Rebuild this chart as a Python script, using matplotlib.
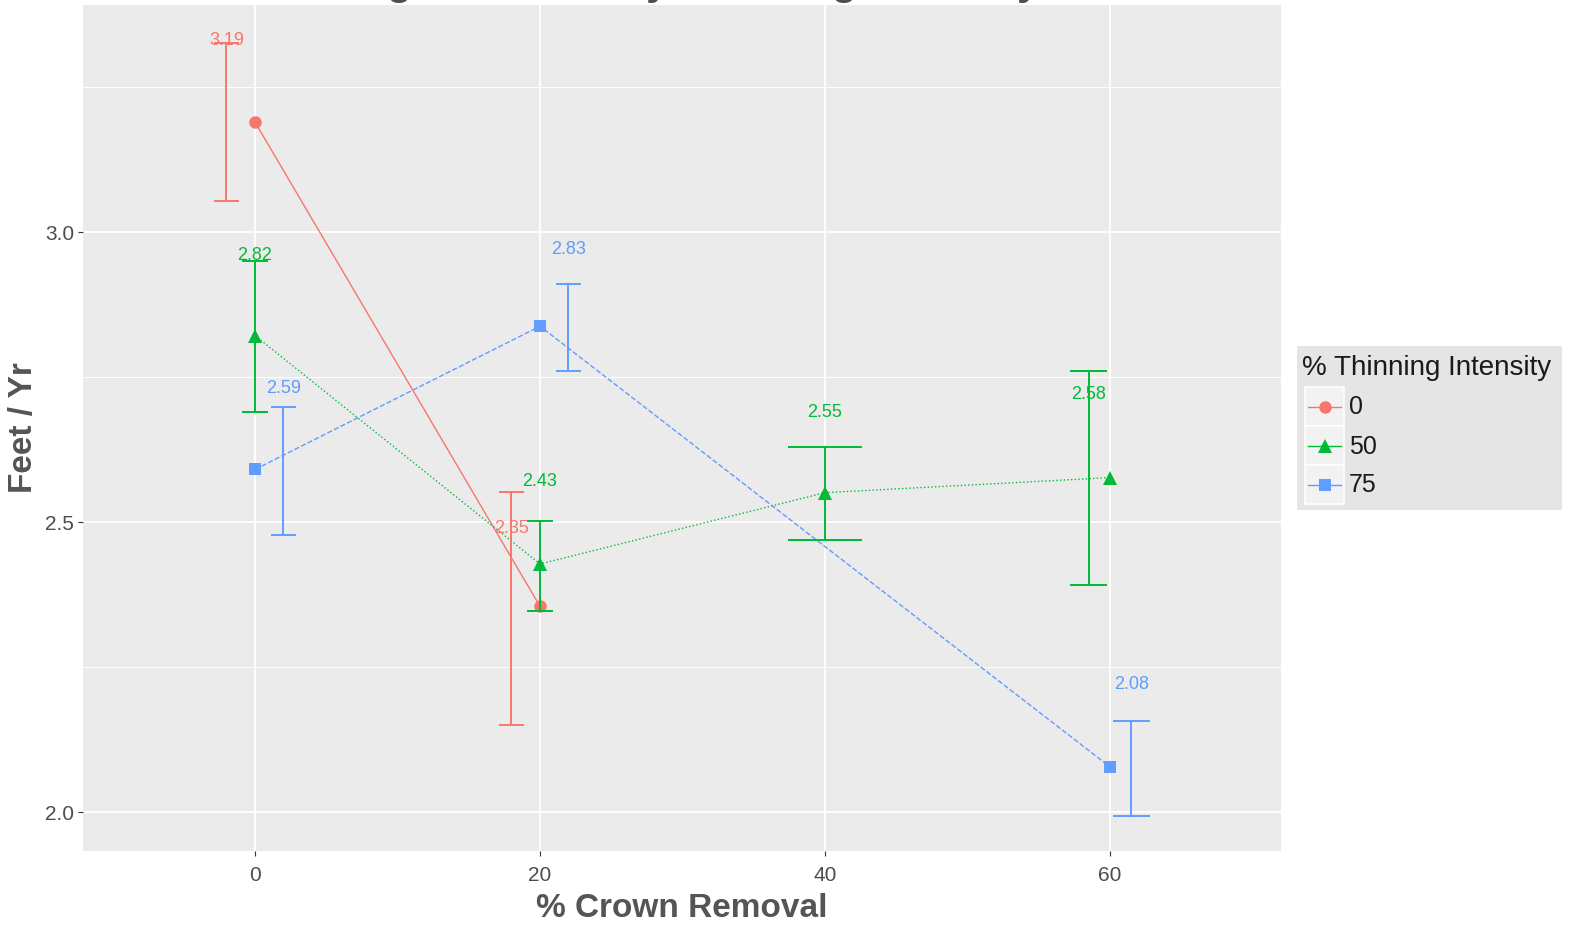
import matplotlib
matplotlib.use("Agg")
import matplotlib.pyplot as plt
from matplotlib.patches import Rectangle
from matplotlib.lines import Line2D
import numpy as np

plt.rcParams['font.family'] = ['Liberation Sans', 'DejaVu Sans']

# ---------------- data ----------------
groups = ["0", "50", "75"]                     # % thinning intensity
colors = ["#F8766D", "#00BA38", "#619CFF"]
markers = ["o", "^", "s"]
linestyles = ["-", ":", "--"]

crown_red = [0, 20]
mean_red = [3.19, 2.355]
lo_red = [3.054, 2.151]
hi_red = [3.327, 2.552]

crown_green = [0, 20, 40, 60]
mean_green = [2.822, 2.428, 2.551, 2.577]
lo_green = [2.690, 2.347, 2.470, 2.392]
hi_green = [2.950, 2.502, 2.629, 2.760]

crown_blue = [0, 20, 60]
mean_blue = [2.591, 2.838, 2.078]
lo_blue = [2.478, 2.761, 1.993]
hi_blue = [2.698, 2.910, 2.157]

labels_red = ["3.19", "2.35"]
labels_green = ["2.82", "2.43", "2.55", "2.58"]
labels_blue = ["2.59", "2.83", "2.08"]

xticks = [0, 20, 40, 60]
yticks = [2.0, 2.5, 3.0]
yminor = [2.25, 2.75, 3.25]

title = "Height Growth by Thinning Intensity"
xlabel = "% Crown Removal"
ylabel = "Feet / Yr"
legend_title = "% Thinning Intensity"

series = [
    (crown_red, mean_red, lo_red, hi_red, labels_red),
    (crown_green, mean_green, lo_green, hi_green, labels_green),
    (crown_blue, mean_blue, lo_blue, hi_blue, labels_blue),
]

# dodge parameters (like ggplot position_dodge)
dodge_width = 6.0
bar_width = 5.0
label_offset = 0.14

# ---------------- figure ----------------
W, H = 1573, 926
fig = plt.figure(figsize=(W / 100, H / 100), dpi=100)
fig.patch.set_facecolor("white")

px_l, px_r, px_t, px_b = 83, 1281, 5, 851
ax = fig.add_axes([px_l / W, 1 - px_b / H, (px_r - px_l) / W, (px_b - px_t) / H])
ax.set_facecolor("#EBEBEB")
ax.set_xlim(-12.07, 72.0)
ax.set_ylim(1.933, 3.392)

for s in ax.spines.values():
    s.set_visible(False)

ax.set_xticks(xticks)
ax.set_yticks(yticks)
ax.set_yticks(yminor, minor=True)
ax.set_xticks([10, 30, 50, 70], minor=True)
ax.set_xticklabels([str(v) for v in xticks])
ax.set_yticklabels([f"{v:.1f}" for v in yticks])
ax.grid(True, which="major", color="white", linewidth=1.3)
ax.grid(True, which="minor", axis="y", color="white", linewidth=0.7)
ax.set_axisbelow(True)
ax.tick_params(which="major", length=3.5, width=0.8, color="#333333",
               labelsize=15, labelcolor="#4D4D4D")
ax.tick_params(axis="x", which="major", pad=7)
ax.tick_params(axis="y", which="major", pad=3)
ax.tick_params(which="minor", length=0)
ax.tick_params(axis="x", which="minor", bottom=False)

# compute dodge offsets per x
all_x = {}
for gi, (xs, *_rest) in enumerate(series):
    for x in xs:
        all_x.setdefault(x, []).append(gi)

def dodged(x, gi):
    members = all_x[x]
    n = len(members)
    i = members.index(gi)
    return x - dodge_width / 2 + (i + 0.5) * dodge_width / n, bar_width / n

# lines
for gi, (xs, ms, lo, hi, lab) in enumerate(series):
    ax.plot(xs, ms, color=colors[gi], linestyle=linestyles[gi], linewidth=1.0, zorder=3)
# points
msize = {"o": 9, "^": 10, "s": 8.2}
for gi, (xs, ms, lo, hi, lab) in enumerate(series):
    ax.plot(xs, ms, linestyle="none", marker=markers[gi], color=colors[gi],
            markersize=msize[markers[gi]], markeredgewidth=0, zorder=4)
# error bars
for gi, (xs, ms, lo, hi, lab) in enumerate(series):
    for x, l, h in zip(xs, lo, hi):
        xd, w = dodged(x, gi)
        ax.plot([xd, xd], [l, h], color=colors[gi], linewidth=1.4, zorder=5)
        ax.plot([xd - w / 2, xd + w / 2], [l, l], color=colors[gi], linewidth=1.4, zorder=5)
        ax.plot([xd - w / 2, xd + w / 2], [h, h], color=colors[gi], linewidth=1.4, zorder=5)
# labels
for gi, (xs, ms, lo, hi, lab) in enumerate(series):
    for x, m, t in zip(xs, ms, lab):
        xd, w = dodged(x, gi)
        ax.text(xd, float(t) + label_offset, t, color=colors[gi], fontsize=13,
                ha="center", va="center", zorder=6)

ax.set_xlabel(xlabel, fontsize=24, fontweight="bold", color="#555555", labelpad=6)
ax.set_ylabel(ylabel, fontsize=24, fontweight="bold", color="#555555", labelpad=4)

# title (cut off at top in the reference, only descenders visible)
fig.text(322 / W, 1 + 6 / H, title, fontsize=30,
         fontweight="bold", color="#4D4D4D", ha="left", va="baseline")

# ---------------- legend ----------------
lx0, ly0, lx1, ly1 = 1297, 346, 1562, 510
lax = fig.add_axes([lx0 / W, 1 - ly1 / H, (lx1 - lx0) / W, (ly1 - ly0) / H])
lax.set_xlim(lx0, lx1)
lax.set_ylim(ly1, ly0)
lax.set_facecolor("#E5E5E5")
lax.set_xticks([])
lax.set_yticks([])
for s in lax.spines.values():
    s.set_visible(False)
lax.text(1302, 368, legend_title, fontsize=20, color="#1A1A1A", ha="left", va="center")
key_x, key_w, key_h, key_y0 = 1305, 39, 39, 387
for gi, g in enumerate(groups):
    ky = key_y0 + gi * key_h
    lax.add_patch(Rectangle((key_x, ky), key_w, key_h, facecolor="#F2F2F2",
                            edgecolor="white", linewidth=1.2))
    cy = ky + key_h / 2
    lax.add_line(Line2D([key_x + 3, key_x + key_w - 3], [cy, cy], color=colors[gi], linewidth=1.0))
    lax.plot([key_x + key_w / 2], [cy], marker=markers[gi], color=colors[gi],
             markersize=msize[markers[gi]], markeredgewidth=0)
    lax.text(key_x + key_w + 5, cy + 1, g, fontsize=18, color="#1A1A1A", ha="left", va="center")

fig.savefig("out.png", dpi=100)
